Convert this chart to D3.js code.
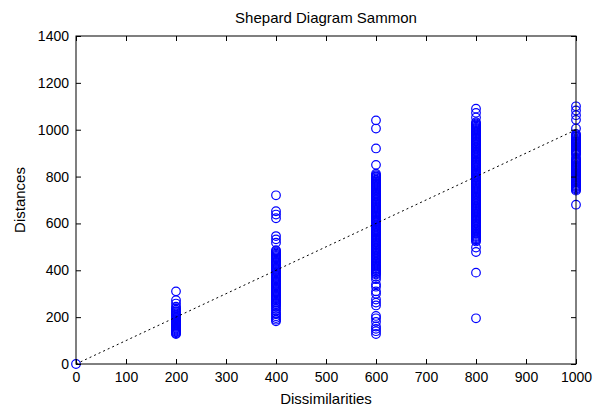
<!DOCTYPE html>
<head>
    <meta charset="utf-8">
    <script src="https://d3js.org/d3.v7.min.js"></script>
</head>
<style>
    body { margin: 0; background: #fff; }
    text { font-family: "Liberation Sans", Arial, sans-serif; fill: #000; }
</style>
<body>
    <div id="shepard"></div>
</body>

<script>
    // dissimilarity levels and the distances found at each of them
    const d0 = [0];
    const d200 = [310, 272, 258, 245, 238, 232, 226, 221, 216, 211, 207, 203, 199, 195, 191, 187, 183, 179, 175,
                  171, 167, 163, 159, 155, 151, 147, 143, 139, 135, 131, 128];
    const d400 = [720, 652, 638, 622, 546, 532, 518, 486, 481, 476, 471, 466, 461, 456, 451, 446, 441, 436, 431,
                  426, 421, 416, 411, 406, 401, 396, 391, 386, 381, 376, 371, 366, 361, 356, 351, 346, 341, 336,
                  331, 326, 321, 316, 311, 306, 301, 296, 291, 286, 281, 276, 271, 266, 261, 256, 251, 244, 236,
                  228, 218, 212, 204, 196, 189, 182];
    const d600 = [1040, 1005, 920, 850, 812, 806, 801, 797, 792, 787, 783, 778, 773, 769, 764, 759, 755, 750, 745,
                  741, 736, 731, 727, 722, 717, 713, 708, 703, 699, 694, 689, 685, 680, 675, 671, 666, 661, 657,
                  652, 647, 643, 638, 633, 629, 624, 619, 615, 610, 605, 601, 596, 591, 587, 582, 577, 573, 568,
                  563, 559, 554, 549, 545, 540, 535, 531, 526, 521, 517, 512, 507, 503, 498, 493, 489, 484, 479,
                  475, 470, 465, 461, 456, 451, 447, 442, 437, 433, 428, 423, 419, 414, 409, 405, 400, 395, 391,
                  386, 382, 372, 362, 340, 330, 310, 300, 275, 262, 250, 205, 195, 180, 160, 150, 140, 128];
    const d800 = [1090, 1072, 1052, 1032, 1027, 1022, 1018, 1013, 1008, 1004, 999, 994, 990, 985, 980, 976, 971,
                  966, 962, 957, 952, 948, 943, 938, 934, 929, 924, 920, 915, 910, 906, 901, 896, 892, 887, 882,
                  878, 873, 868, 864, 859, 854, 850, 845, 840, 836, 831, 826, 822, 817, 812, 808, 803, 798, 794,
                  789, 784, 780, 775, 770, 766, 761, 756, 752, 747, 742, 738, 733, 728, 724, 719, 714, 710, 705,
                  700, 696, 691, 686, 682, 677, 672, 668, 663, 658, 654, 649, 644, 640, 635, 630, 626, 621, 616,
                  612, 607, 602, 598, 593, 588, 584, 579, 574, 570, 565, 560, 556, 551, 546, 542, 537, 532, 528,
                  523, 497, 478, 390, 195];
    const d1000 = [1100, 1082, 1062, 1042, 1005, 982, 977, 972, 968, 963, 958, 954, 949, 944, 940, 935, 930, 926,
                   921, 916, 912, 907, 902, 898, 893, 880, 875, 871, 866, 861, 857, 852, 847, 843, 838, 833, 829,
                   824, 819, 815, 810, 805, 801, 796, 791, 787, 782, 777, 773, 768, 763, 759, 754, 749, 745, 740,
                   680];

    const levels = [0, 200, 400, 600, 800, 1000];
    const columns = [d0, d200, d400, d600, d800, d1000];

    const xTicks = [0, 100, 200, 300, 400, 500, 600, 700, 800, 900, 1000];
    const yTicks = [0, 200, 400, 600, 800, 1000, 1200, 1400];

    const points = [];
    columns.forEach((col, i) => col.forEach(v => points.push({dis: levels[i], dist: v})));

    const W = 605, H = 409;
    const margin = {top: 36, right: 29, bottom: 45, left: 76},
        width = W - margin.left - margin.right,
        height = H - margin.top - margin.bottom;

    const root = d3.select("#shepard")
        .append("svg")
        .attr("width", W)
        .attr("height", H);

    const svg = root.append("g")
        .attr("transform", `translate(${margin.left},${margin.top})`);

    const x = d3.scaleLinear().domain([0, 1000]).range([0, width]);
    const y = d3.scaleLinear().domain([0, 1400]).range([height, 0]);

    // markers
    svg.selectAll("circle")
        .data(points)
        .join("circle")
        .attr("cx", d => x(d.dis))
        .attr("cy", d => y(d.dist))
        .attr("r", 4.3)
        .attr("fill", "none")
        .attr("stroke", "#0000ff")
        .attr("stroke-width", 1.2);

    // identity line, drawn over the markers
    svg.append("line")
        .attr("x1", x(0)).attr("y1", y(0))
        .attr("x2", x(1000)).attr("y2", y(1000))
        .attr("stroke", "#000")
        .attr("stroke-width", 1)
        .attr("stroke-dasharray", "2,3");

    // box
    svg.append("rect")
        .attr("width", width)
        .attr("height", height)
        .attr("fill", "none")
        .attr("stroke", "#000");

    const fs = 14;
    const tk = 5;

    // axes, ticks inward on all four sides
    const axBottom = svg.append("g").attr("transform", `translate(0,${height})`)
        .call(d3.axisBottom(x).tickValues(xTicks).tickSize(-tk).tickPadding(8).tickFormat(d3.format("d")));
    const axTop = svg.append("g")
        .call(d3.axisTop(x).tickValues(xTicks).tickSize(-tk).tickFormat(""));
    const axLeft = svg.append("g")
        .call(d3.axisLeft(y).tickValues(yTicks).tickSize(-tk).tickPadding(7).tickFormat(d3.format("d")));
    const axRight = svg.append("g").attr("transform", `translate(${width},0)`)
        .call(d3.axisRight(y).tickValues(yTicks).tickSize(-tk).tickFormat(""));

    [axBottom, axTop, axLeft, axRight].forEach(g => {
        g.select(".domain").remove();
        g.selectAll("line").attr("stroke", "#000");
        g.selectAll("text").attr("font-size", fs).attr("font-family", null);
    });

    root.append("text")
        .attr("x", margin.left + width / 2)
        .attr("y", 23)
        .attr("text-anchor", "middle")
        .attr("font-size", 15)
        .text("Shepard Diagram Sammon");

    root.append("text")
        .attr("x", margin.left + width / 2)
        .attr("y", 404)
        .attr("text-anchor", "middle")
        .attr("font-size", 15)
        .text("Dissimilarities");

    root.append("text")
        .attr("transform", `translate(25,${margin.top + height / 2}) rotate(-90)`)
        .attr("text-anchor", "middle")
        .attr("font-size", 15)
        .text("Distances");
</script>
